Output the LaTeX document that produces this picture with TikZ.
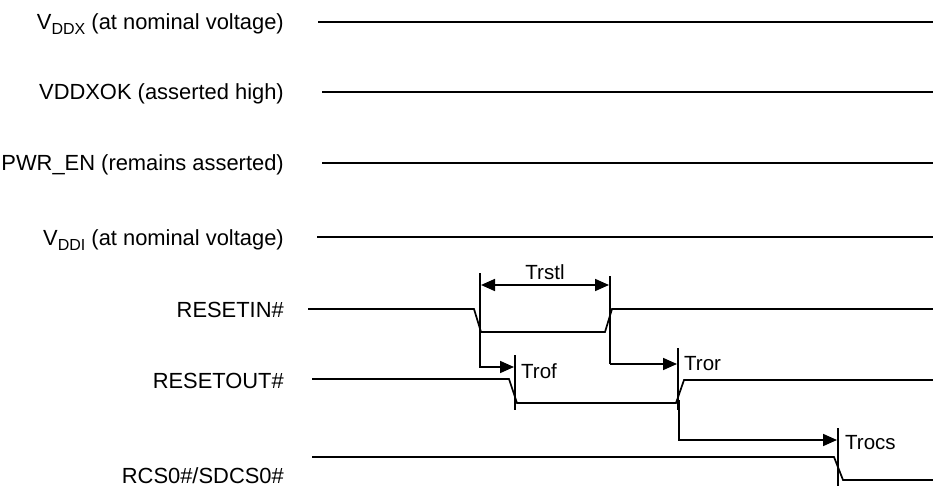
\documentclass[tikz,border=0pt]{standalone}
\usepackage{fontspec}
\setmainfont{Liberation Sans}
\usetikzlibrary{arrows.meta}
\tikzset{
  lab/.style={anchor=base east, inner sep=0pt, font=\fontsize{21.9}{24}\selectfont},
  ann/.style={anchor=base west, inner sep=0pt, font=\fontsize{20.5}{23}\selectfont},
  wave/.style={line width=1.7pt, line join=miter},
  tick/.style={line width=1.7pt},
  dim/.style={line width=1.7pt, -{Triangle[length=14pt,width=12pt]}},
  dimboth/.style={line width=1.7pt, {Triangle[length=14pt,width=12pt]}-{Triangle[length=14pt,width=12pt]}}
}
\newcommand{\sub}[1]{\raisebox{-5pt}{\fontsize{16}{18}\selectfont #1}}
\begin{document}
\begin{tikzpicture}[x=1pt,y=-1pt]
\useasboundingbox[fill=white] (0,0) rectangle (933,486);
% labels
\node[lab] (lvddx) at (284,30) {V\sub{DDX} (at nominal voltage)};
\node[lab] (lok) at (284,100) {VDDXOK (asserted high)};
\node[lab] (lpwr) at (284,171) {PWR\_EN (remains asserted)};
\node[lab] (lvddi) at (284,245) {V\sub{DDI} (at nominal voltage)};
\node[lab] (lrin) at (284,317) {RESETIN\#};
\node[lab] (lrout) at (284,388) {RESETOUT\#};
\node[lab] (lrcs) at (284,483) {RCS0\#/SDCS0\#};
% static lines
\draw[wave] (318,22) -- (933,22);
\draw[wave] (322,92) -- (933,92);
\draw[wave] (322,163) -- (933,163);
\draw[wave] (317,237) -- (933,237);
% RESETIN#
\coordinate (inf) at (481,332);
\coordinate (inr) at (612,309);
\draw[wave] (308,309) -- (474,309) -- (inf) -- (605,332) -- (inr) -- (933,309);
% RESETOUT#
\coordinate (outf) at (517,403);
\coordinate (outr) at (684,380);
\draw[wave] (312,379) -- (509,379) -- (outf) -- (676,403) -- (outr) -- (933,380);
% RCS0#
\coordinate (rcsf) at (843,480);
\draw[wave] (312,457) -- (834,457) -- (rcsf) -- (933,480);
% Trstl
\draw[tick] (480,273) -- (480,367);
\draw[tick] (610,276) -- (610,364);
\draw[dimboth] (481,285) -- (609,285);
\node[ann, anchor=base] (trstl) at (545,279) {Trstl};
% Trof
\draw[tick] (515,355) -- (515,410);
\draw[dim] (479,367) -- (514,367);
\node[ann] (trof) at (521,378) {Trof};
% Tror
\draw[tick] (678,348) -- (678,410);
\draw[dim] (610,364) -- (677,364);
\node[ann] (tror) at (684,370) {Tror};
% Trocs
\draw[tick] (679,400) -- (679,441);
\draw[tick] (838,428) -- (838,486);
\draw[dim] (678,440) -- (837,440);
\node[ann] (trocs) at (845,449) {Trocs};
\end{tikzpicture}
\end{document}
